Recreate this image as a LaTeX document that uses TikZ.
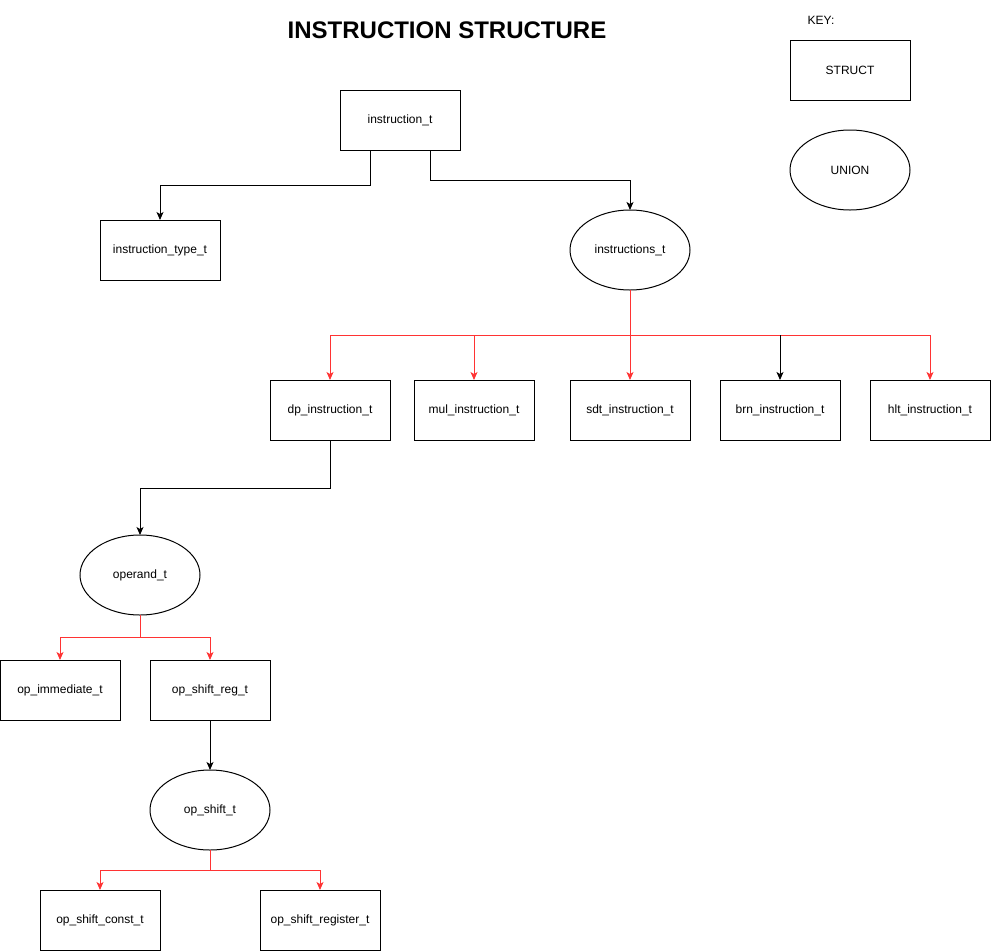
\documentclass[tikz,border=0pt]{standalone}
\usepackage{fontspec}
\setmainfont{Liberation Sans}
\usepackage{tikz}
\usetikzlibrary{positioning,shapes.geometric,arrows.meta}
\definecolor{linkred}{HTML}{FF3333}
\tikzset{
struct/.style={draw,line width=1pt,minimum width=120pt,minimum height=60pt,inner sep=0pt,outer sep=0pt,font=\fontsize{12}{14}\selectfont},
union/.style={draw,ellipse,line width=1pt,minimum width=120pt,minimum height=80pt,inner sep=0pt,outer sep=0pt,font=\fontsize{12}{14}\selectfont},
link/.style={line width=1pt,-{Stealth[length=8pt,width=7pt,inset=2pt]}},
redlink/.style={link,linkred}
}

\begin{document}
\begin{tikzpicture}[x=1pt,y=-1pt]
\useasboundingbox (0,0) rectangle (991,951);
\node (title) at (447,30) {\fontsize{24}{28}\selectfont\bfseries INSTRUCTION STRUCTURE};
\node (key) at (821,20) {\fontsize{12}{14}\selectfont KEY:}; \node [struct] (kstruct) at (850,70) {STRUCT}; \node [union] (kunion) at (850,170) {UNION};
\node [struct] (ins) at (400,120) {instruction\_t}; \node [struct] (ityp) at (160,250) {instruction\_type\_t}; \node [union] (insts) at (630,250) {instructions\_t};
\node [struct] (dp) at (330,410) {dp\_instruction\_t}; \node [struct, right=24pt of dp] (mul) {mul\_instruction\_t}; \node [struct, right=36pt of mul] (sdt) {sdt\_instruction\_t}; \node [struct, right=30pt of sdt] (brn) {brn\_instruction\_t}; \node [struct, right=30pt of brn] (hlt) {hlt\_instruction\_t};
\node [union] (operand) at (140,575) {operand\_t}; \node [struct] (opimm) at (60,690) {op\_immediate\_t}; \node [struct, right=30pt of opimm] (opsreg) {op\_shift\_reg\_t};
\node [union, below=50pt of opsreg] (opshift) {op\_shift\_t}; \node [struct] (opconst) at (100,920) {op\_shift\_const\_t}; \node [struct] (opsregister) at (320,920) {op\_shift\_register\_t};
% instruction_t
\draw [link] ([xshift=-30pt]ins.south) -- ++(0,35) -| (ityp.north);
\draw [link] ([xshift=30pt]ins.south) -- ++(0,30) -| (insts.north);
% instructions_t
\coordinate (bus1) at (630,335);
\draw [linkred, line width=1pt] (insts.south) -- (bus1);
\foreach \n in {dp,mul,sdt,hlt} \draw [redlink] (bus1) -| (\n.north);
\draw [link] (brn.north |- bus1) -- (brn.north);
% operand_t
\draw [link] (dp.south) -- ++(0,48) -| (operand.north);
\coordinate (bus2) at (140,637);
\draw [linkred, line width=1pt] (operand.south) -- (bus2);
\foreach \n in {opimm,opsreg} \draw [redlink] (bus2) -| (\n.north);
% op_shift_t
\draw [link] (opsreg.south) -- (opshift.north);
\coordinate (bus3) at (210,870);
\draw [linkred, line width=1pt] (opshift.south) -- (bus3);
\foreach \n in {opconst,opsregister} \draw [redlink] (bus3) -| (\n.north);
\end{tikzpicture}
\end{document}
